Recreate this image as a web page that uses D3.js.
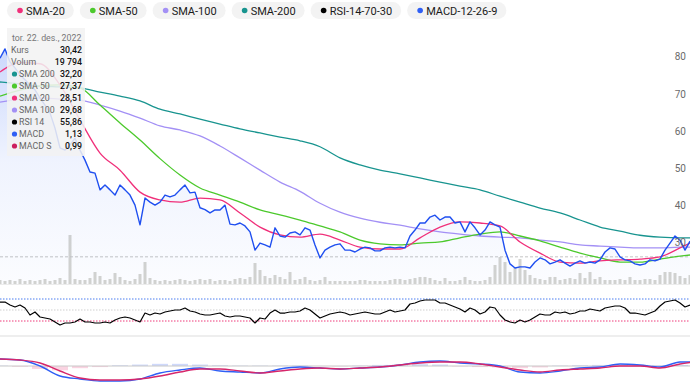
<!DOCTYPE html>
<html>
<head>
<meta charset="utf-8">
<script src="https://cdn.jsdelivr.net/npm/d3@7"></script>
<style>
  body { margin: 0; background: #fff; font-family: Roboto, "Noto Sans", sans-serif; }
  svg { display: block; }
</style>
</head>
<body>
<svg id="chart"></svg>
<script>
// daily close, one value per 5 px step
const price = [
  79.6, 82.1, 78.6, 77.0, 75.1, 73.8, 72.4, 71.1, 68.9, 67.0,
  64.9, 60.8, 55.5, 54.9, 56.3, 58.1, 54.9, 52.2, 49.0, 48.7,
  44.2, 45.5, 44.2, 42.8, 45.5, 44.2, 42.8, 40.1, 34.8, 42.0,
  40.9, 40.1, 40.9, 42.8, 42.3, 42.8, 44.2, 45.5, 43.4, 43.6,
  39.4, 38.9, 38.0, 38.8, 38.8, 40.1, 35.0, 34.8, 35.3, 34.5,
  32.9, 28.0, 29.9, 29.4, 28.8, 34.0, 31.8, 31.5, 32.6, 32.9,
  32.1, 34.0, 33.4, 29.4, 25.9, 28.0, 28.8, 29.4, 29.7, 28.0,
  28.0, 27.5, 28.3, 28.8, 28.6, 27.8, 27.8, 28.6, 28.8, 28.6,
  28.8, 28.6, 31.8, 33.4, 35.3, 35.3, 36.9, 37.4, 36.1, 36.9,
  36.9, 35.3, 35.6, 32.9, 35.6, 34.0, 32.1, 33.4, 35.6, 34.8,
  34.2, 28.0, 24.3, 23.2, 23.5, 23.5, 23.2, 24.8, 25.9, 25.4,
  24.3, 24.8, 25.4, 24.5, 23.7, 24.5, 25.1, 24.5, 24.8, 24.5,
  25.4, 27.5, 28.6, 28.3, 26.2, 25.4, 25.1, 24.3, 24.0, 24.3,
  25.4, 25.1, 25.6, 28.0, 29.9, 31.8, 30.7, 28.0, 30.4
];

// volume in thousands
const volume = [
  8.9, 6.7, 8.9, 6.7, 11.1, 6.7, 8.9, 6.7, 8.9, 11.1,
  6.7, 8.9, 13.3, 8.9, 108.9, 11.1, 8.9, 8.9, 13.3, 26.7,
  17.8, 8.9, 11.1, 24.4, 15.6, 8.9, 6.7, 11.1, 22.2, 48.9,
  13.3, 8.9, 6.7, 8.9, 6.7, 8.9, 11.1, 8.9, 6.7, 8.9,
  11.1, 8.9, 11.1, 6.7, 8.9, 8.9, 6.7, 11.1, 13.3, 11.1,
  15.6, 46.7, 31.1, 17.8, 13.3, 20.0, 15.6, 11.1, 26.7, 8.9,
  11.1, 15.6, 8.9, 6.7, 8.9, 15.6, 6.7, 6.7, 6.7, 6.7,
  6.7, 6.7, 8.9, 8.9, 6.7, 6.7, 6.7, 6.7, 8.9, 11.1,
  11.1, 8.9, 11.1, 13.3, 15.6, 15.6, 13.3, 8.9, 6.7, 13.3,
  6.7, 6.7, 8.9, 15.6, 8.9, 6.7, 6.7, 8.9, 15.6, 42.2,
  60.0, 48.9, 26.7, 35.6, 55.6, 31.1, 20.0, 13.3, 11.1, 8.9,
  15.6, 15.6, 8.9, 11.1, 13.3, 11.1, 24.4, 13.3, 26.7, 11.1,
  15.6, 8.9, 8.9, 8.9, 11.1, 8.9, 15.6, 8.9, 8.9, 11.1,
  11.1, 8.9, 20.0, 26.7, 26.7, 24.4, 17.8, 13.3, 19.8
];

const rsi = [
  64.5, 64.5, 59.1, 55.5, 59.1, 53.6, 40.9, 46.4, 37.3, 35.5,
  33.6, 28.2, 22.7, 26.4, 26.4, 28.2, 33.6, 28.2, 28.2, 26.4,
  26.4, 28.2, 26.4, 31.8, 35.5, 37.3, 35.5, 31.8, 28.2, 44.5,
  40.9, 44.5, 42.7, 46.4, 48.2, 50.0, 50.0, 53.6, 48.2, 46.4,
  42.7, 40.9, 40.9, 42.7, 44.5, 39.1, 37.3, 39.1, 39.1, 37.3,
  35.5, 26.4, 35.5, 33.6, 44.5, 50.0, 44.5, 44.5, 46.4, 46.4,
  48.2, 53.6, 50.0, 42.7, 35.5, 39.1, 42.7, 44.5, 46.4, 44.5,
  40.9, 42.7, 44.5, 46.4, 44.5, 42.7, 42.7, 46.4, 50.0, 46.4,
  48.2, 50.0, 60.9, 62.7, 66.4, 68.2, 68.2, 68.2, 62.7, 62.7,
  59.1, 55.5, 51.8, 46.4, 53.6, 50.0, 42.7, 46.4, 55.5, 53.6,
  40.9, 31.8, 28.2, 26.4, 31.8, 28.2, 31.8, 37.3, 42.7, 40.9,
  40.9, 46.4, 44.5, 46.4, 42.7, 44.5, 48.2, 48.2, 51.8, 50.0,
  48.2, 53.6, 55.5, 57.3, 57.3, 53.6, 44.5, 44.5, 42.7, 40.9,
  44.5, 48.2, 57.3, 64.5, 66.4, 68.2, 62.7, 55.5, 59.1
];

// day indices where the smooth indicator lines were sampled
const sampleDays = [
  0, 4, 8, 12, 16, 20, 24, 28, 32, 36, 40, 44, 48, 52, 56, 60, 64, 68,
  72, 76, 80, 84, 88, 92, 96, 100, 104, 108, 112, 116, 120, 124, 128, 132, 136, 138
];

const sma20 = [
  75.9, 78.4, 78.1, 72.4, 63.0, 54.1, 49.5, 43.6, 41.5, 40.9, 42.0, 41.5,
  38.0, 34.2, 32.1, 31.5, 32.3, 30.7, 28.8, 28.3, 28.3, 31.3, 34.2, 35.6,
  35.3, 34.5, 30.2, 27.2, 24.8, 24.5, 25.1, 25.4, 25.6, 26.2, 28.6, 29.9
];
const sma50 = [
  69.4, 71.0, 72.1, 72.4, 71.6, 67.0, 62.2, 57.6, 52.6, 48.2, 44.7, 42.8,
  40.9, 38.8, 37.5, 36.1, 34.5, 32.9, 30.7, 29.7, 29.4, 29.9, 30.2, 31.3,
  32.3, 32.9, 31.8, 30.5, 28.8, 27.2, 25.9, 24.8, 24.8, 25.6, 26.4, 26.7
];
const sma100 = [
  67.8, 68.6, 68.9, 68.6, 68.3, 67.0, 65.4, 63.5, 61.4, 60.3, 58.7, 56.0,
  52.8, 49.5, 46.3, 43.8, 40.6, 38.2, 36.6, 35.5, 34.7, 33.7, 32.9, 32.3,
  31.8, 31.5, 31.3, 30.7, 30.2, 29.4, 29.1, 28.8, 28.6, 28.6, 28.8, 28.8
];
const sma200 = [
  73.2, 72.7, 72.1, 71.9, 71.6, 70.5, 69.4, 68.1, 65.9, 64.6, 63.2, 61.9,
  60.6, 59.5, 58.4, 57.4, 55.8, 52.8, 50.9, 49.5, 48.5, 47.4, 46.3, 45.2,
  44.2, 42.5, 40.9, 39.3, 38.0, 36.1, 34.2, 33.1, 32.0, 31.5, 31.3, 31.3
];

const macd = [
  1.94, 1.67, 0.0, -2.78, -3.61, -4.17, -4.17, -3.61, -1.94, -1.11, -0.56, -1.39,
  -1.67, -1.94, -0.83, -0.28, -0.56, -0.83, -0.56, -0.28, 0.28, 1.11, 1.39, 0.83,
  0.56, 0.0, -1.67, -1.94, -1.39, -0.56, -0.28, 0.56, 0.28, -0.28, 1.11, 1.13
];
const macdSignal = [
  1.94, 1.67, 0.83, -1.39, -3.33, -3.89, -3.89, -3.61, -2.78, -1.67, -0.83, -0.83,
  -1.39, -1.94, -1.39, -0.83, -0.56, -0.83, -0.56, -0.28, 0.28, 0.83, 1.11, 1.11,
  0.56, -0.28, -1.11, -1.67, -1.11, -0.83, -0.56, 0.0, 0.0, -0.56, 0.56, 0.99
];
const macdHist = [
  0.1, -0.2, -0.8, -1.2, -0.6, -0.3, 0.2, 0.4, 0.6, 0.6, 0.4, 0.2,
  0.1, 0.1, 0.1, 0.1, 0.0, -0.1, 0.1, 0.3, 0.4, 0.5, 0.4, -0.1,
  -0.3, -0.4, -0.6, -0.4, 0.1, 0.2, 0.3, 0.4, 0.3, 0.2, 0.3, 0.14
];

const priceTicks = [30, 40, 50, 60, 70, 80];
const refPrice = 26.2;
const rsiLevels = [70, 50, 30];

const legendItems = [
  { name: "SMA-20", color: "#f0307a" },
  { name: "SMA-50", color: "#4cc92c" },
  { name: "SMA-100", color: "#a390f5" },
  { name: "SMA-200", color: "#18948f" },
  { name: "RSI-14-70-30", color: "#000000" },
  { name: "MACD-12-26-9", color: "#2f5ff5" }
];

const tipDate = "tor. 22. des., 2022";
const tipRows = [
  { label: "Kurs", value: "30,42", color: null },
  { label: "Volum", value: "19 794", color: null },
  { label: "SMA 200", value: "32,20", color: "#18948f" },
  { label: "SMA 50", value: "27,37", color: "#4cc92c" },
  { label: "SMA 20", value: "28,51", color: "#f0307a" },
  { label: "SMA 100", value: "29,68", color: "#a390f5" },
  { label: "RSI 14", value: "55,86", color: "#000000" },
  { label: "MACD", value: "1,13", color: "#2f5ff5" },
  { label: "MACD S", value: "0,99", color: "#cc1f5e" }
];

const width = 690;
const height = 385;

const svg = d3.select("#chart").attr("width", width).attr("height", height);

const x = d3.scaleLinear().domain([0, price.length - 1]).range([0, width]);
const yPrice = d3.scaleLinear().domain([30, 80]).range([242.7, 56.7]);
const yVol = d3.scaleLinear().domain([0, 120]).range([284, 230]);
const yRsi = d3.scaleLinear().domain([30, 70]).range([321, 299]);
const yMacd = d3.scaleLinear().domain([0, 1]).range([366, 362.4]);

// gradient under the price line
const defs = svg.append("defs");
const grad = defs.append("linearGradient")
  .attr("id", "priceFill")
  .attr("gradientUnits", "userSpaceOnUse")
  .attr("x1", 0).attr("y1", 40).attr("x2", 0).attr("y2", 284);
grad.append("stop").attr("offset", 0).attr("stop-color", "#3d6cf5").attr("stop-opacity", 0.28);
grad.append("stop").attr("offset", 0.5).attr("stop-color", "#3d6cf5").attr("stop-opacity", 0.08);
grad.append("stop").attr("offset", 1).attr("stop-color", "#3d6cf5").attr("stop-opacity", 0.02);

// volume bars
svg.append("g")
  .selectAll("rect")
  .data(volume)
  .enter()
  .append("rect")
  .attr("x", (d, i) => x(i) - 1.5)
  .attr("width", 3)
  .attr("y", d => yVol(d))
  .attr("height", d => yVol(0) - yVol(d))
  .attr("fill", "#d4d4cf");

svg.append("line")
  .attr("x1", 0).attr("x2", width)
  .attr("y1", yVol(0) + 0.5).attr("y2", yVol(0) + 0.5)
  .attr("stroke", "#ececec");

// reference dashed line
svg.append("line")
  .attr("x1", 0).attr("x2", width)
  .attr("y1", yPrice(refPrice)).attr("y2", yPrice(refPrice))
  .attr("stroke", "#c4c4c4")
  .attr("stroke-dasharray", "3,2");

// price area + line
svg.append("path")
  .datum(price)
  .attr("d", d3.area().x((d, i) => x(i)).y0(yVol(0)).y1(d => yPrice(d)))
  .attr("fill", "url(#priceFill)");

const smoothLine = d3.line()
  .x((d, i) => x(sampleDays[i]))
  .curve(d3.curveMonotoneX);

const smas = [
  { values: sma200, color: "#18948f" },
  { values: sma100, color: "#a390f5" },
  { values: sma50, color: "#4cc92c" },
  { values: sma20, color: "#f0307a" }
];
smas.forEach(s => {
  svg.append("path")
    .datum(s.values)
    .attr("d", smoothLine.y(d => yPrice(d)))
    .attr("fill", "none")
    .attr("stroke", s.color)
    .attr("stroke-width", 1.3);
});

svg.append("path")
  .datum(price)
  .attr("d", d3.line().x((d, i) => x(i)).y(d => yPrice(d)))
  .attr("fill", "none")
  .attr("stroke", "#1f4ff0")
  .attr("stroke-width", 1.4)
  .attr("stroke-linejoin", "round");

// right price axis
const yAxis = d3.axisLeft(yPrice).tickValues(priceTicks).tickSize(0).tickPadding(0);
const axisG = svg.append("g")
  .call(yAxis)
  .attr("transform", "translate(686, 0)");
axisG.select(".domain").remove();
axisG.selectAll("text")
  .attr("fill", "#6b6b6b")
  .style("font-size", "10px")
  .style("font-family", "Roboto, sans-serif");

// RSI panel
const rsiColors = { 70: "#4a7cf0", 50: "#cfcfcf", 30: "#ee3b7a" };
rsiLevels.forEach(l => {
  svg.append("line")
    .attr("x1", 0).attr("x2", width)
    .attr("y1", yRsi(l)).attr("y2", yRsi(l))
    .attr("stroke", rsiColors[l])
    .attr("stroke-width", 1)
    .attr("stroke-dasharray", "1.5,1.5");
});
svg.append("path")
  .datum(rsi)
  .attr("d", d3.line().x((d, i) => x(i)).y(d => yRsi(d)))
  .attr("fill", "none")
  .attr("stroke", "#000")
  .attr("stroke-width", 1.2)
  .attr("stroke-linejoin", "round");

svg.append("rect")
  .attr("x", 0).attr("y", 335).attr("width", width).attr("height", 2)
  .attr("fill", "#eeeeee");

// MACD panel
svg.append("g")
  .selectAll("rect")
  .data(macdHist)
  .enter()
  .append("rect")
  .attr("x", (d, i) => x(sampleDays[i]) - 8)
  .attr("width", 16)
  .attr("y", d => Math.min(yMacd(d), yMacd(0)))
  .attr("height", d => Math.abs(yMacd(d) - yMacd(0)))
  .attr("fill", d => (d >= 0 ? "#9fb4f7" : "#f6a8c4"))
  .attr("opacity", 0.5);

svg.append("line")
  .attr("x1", 0).attr("x2", width)
  .attr("y1", yMacd(0)).attr("y2", yMacd(0))
  .attr("stroke", "#c8c8c8");

svg.append("path")
  .datum(macd)
  .attr("d", smoothLine.y(d => yMacd(d)))
  .attr("fill", "none")
  .attr("stroke", "#2f5ff5")
  .attr("stroke-width", 1.4);
svg.append("path")
  .datum(macdSignal)
  .attr("d", smoothLine.y(d => yMacd(d)))
  .attr("fill", "none")
  .attr("stroke", "#d6266a")
  .attr("stroke-width", 1.4);

// tooltip box
const tip = svg.append("g").attr("transform", "translate(7, 28)");
tip.append("rect")
  .attr("width", 78).attr("height", 128)
  .attr("fill", "#f2f2f2")
  .attr("opacity", 0.86);
tip.append("text")
  .attr("x", 5).attr("y", 13)
  .attr("fill", "#777")
  .style("font-size", "8.8px")
  .text(tipDate);
tipRows.forEach((r, i) => {
  const ry = 25 + i * 12;
  let lx = 4;
  if (r.color) {
    tip.append("circle").attr("cx", 7.5).attr("cy", ry - 3).attr("r", 2.6).attr("fill", r.color);
    lx = 12;
  }
  tip.append("text")
    .attr("x", lx).attr("y", ry)
    .attr("fill", "#666")
    .style("font-size", "8.8px")
    .text(r.label);
  tip.append("text")
    .attr("x", 75).attr("y", ry)
    .attr("text-anchor", "end")
    .attr("fill", "#111")
    .style("font-size", "8.8px")
    .style("font-weight", "500")
    .text(r.value);
});

// legend pills
const legend = svg.append("g");
let lx = 7;
legendItems.forEach(item => {
  const g = legend.append("g").attr("transform", "translate(" + lx + ", 2)");
  const t = g.append("text")
    .attr("x", 19).attr("y", 12.5)
    .attr("fill", "#1a1a1a")
    .style("font-size", "11px")
    .text(item.name);
  const w = t.node().getComputedTextLength() + 28;
  g.insert("rect", "text")
    .attr("width", w).attr("height", 17)
    .attr("rx", 8.5)
    .attr("fill", "#f3f3f3");
  g.append("circle").attr("cx", 13).attr("cy", 8.5).attr("r", 2.8).attr("fill", item.color);
  lx += w + 6;
});
</script>
</body>
</html>
